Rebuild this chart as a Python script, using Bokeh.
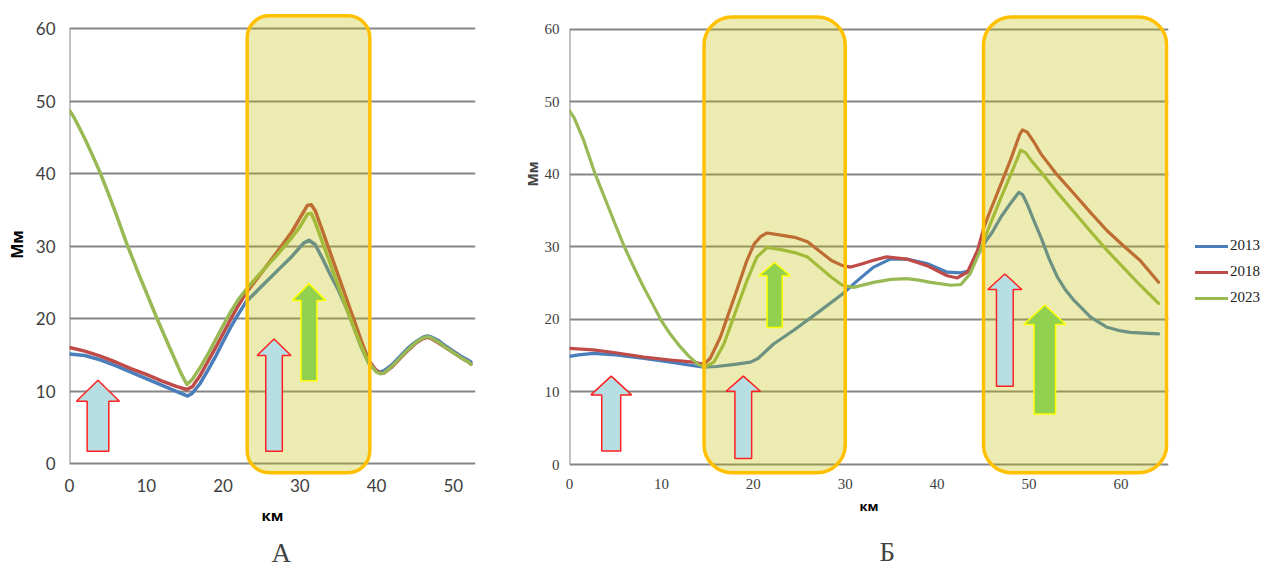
from bokeh.plotting import figure
from bokeh.models import Range1d, FixedTicker, Legend, LegendItem, Title
from bokeh.layouts import row
from bokeh.embed import file_html
from bokeh.resources import INLINE

YEARS = ["2013", "2018", "2023"]
COLORS = ["#4A7EBB", "#BE4B48", "#98B954"]
Y_TICKS = [0, 10, 20, 30, 40, 50, 60]
X_TICKS_A = [0, 10, 20, 30, 40, 50]
X_TICKS_B = [0, 10, 20, 30, 40, 50, 60]

# ---------------- Panel A ----------------
A_KM_2013 = [0, 1, 2, 4, 6, 8, 10, 12, 14, 15.4, 16, 17, 18, 19, 20, 21, 22, 23, 25, 27, 29, 30.5, 31.2,
             32, 33, 34, 35, 36, 37, 38, 39, 40, 40.5, 41, 42, 43, 44, 45, 46, 46.6, 47, 48, 49, 50, 51, 52, 52.3]
A_MM_2013 = [15.1, 15.0, 14.9, 14.3, 13.5, 12.6, 11.7, 10.8, 9.9, 9.3, 9.7, 11.0, 12.8, 14.7, 16.8, 18.8, 20.6, 22.3, 24.4, 26.5, 28.6, 30.4, 30.8,
             30.2, 28.2, 26.0, 24.0, 21.6, 18.9, 16.1, 13.8, 12.8, 12.6, 12.8, 13.6, 14.7, 15.8, 16.7, 17.4, 17.6, 17.5, 17.0, 16.2, 15.5, 14.8, 14.2, 14.0]

A_KM_2018 = [0, 2, 4, 6, 8, 10, 12, 14, 15.3, 16, 17, 18, 19, 20, 21, 22, 23, 25, 27, 29, 30, 31, 31.5,
             32, 33, 34, 35, 36, 37, 38, 39, 40, 40.6, 41, 42, 43, 44, 45, 46, 46.6, 47, 48, 49, 50, 51, 52, 52.3]
A_MM_2018 = [16.0, 15.5, 14.8, 14.0, 13.1, 12.3, 11.4, 10.6, 10.2, 10.6, 12.1, 14.0, 15.9, 17.9, 19.9, 21.8, 23.5, 26.3, 29.1, 32.0, 33.8, 35.6, 35.7,
             34.9, 32.0, 29.0, 26.0, 23.0, 20.0, 17.0, 14.2, 12.8, 12.4, 12.5, 13.3, 14.4, 15.5, 16.5, 17.2, 17.4, 17.3, 16.7, 16.0, 15.3, 14.6, 14.0, 13.7]

A_KM_2023 = [0, 0.5, 1, 2, 3, 4, 5, 6, 7.5, 9, 11.4, 13, 14.5, 15.3, 16, 17, 18, 19, 20, 21, 22, 23, 25, 27, 29, 30, 31, 31.5,
             32, 33, 34, 35, 36, 37, 38, 39, 40, 40.5, 41, 42, 43, 44, 45, 46, 46.6, 47, 48, 49, 50, 51, 52, 52.3]
A_MM_2023 = [48.7, 47.9, 46.9, 44.8, 42.5, 40.1, 37.4, 34.6, 30.2, 26.2, 20.0, 16.1, 12.5, 10.9, 11.6, 13.2, 15.0, 17.0, 19.0, 20.9, 22.6, 24.0, 26.4, 28.7, 31.2, 32.6, 34.4, 34.5,
             33.3, 30.4, 27.5, 24.6, 21.7, 18.9, 16.2, 13.9, 12.6, 12.4, 12.5, 13.4, 14.5, 15.6, 16.6, 17.3, 17.5, 17.4, 16.8, 16.0, 15.3, 14.6, 14.0, 13.7]

# ---------------- Panel B ----------------
B_KM_2013 = [0, 1, 2.6, 5, 8.1, 11, 13.5, 14.6, 16, 18, 19.7, 20.5, 22.2, 24.4, 27.3, 29.7, 31.3, 33.1, 34.9, 36.7, 38.9, 41.1, 42.6,
             43.5, 44.4, 45.1, 46, 47, 48, 48.9, 49.3, 49.8, 50.5, 51.3, 52.2, 53.1, 54, 54.9, 56.7, 58.5, 60, 61, 62.5, 64.1]
B_MM_2013 = [14.9, 15.1, 15.3, 15.1, 14.6, 14.1, 13.6, 13.4, 13.5, 13.8, 14.1, 14.6, 16.6, 18.5, 21.2, 23.5, 25.3, 27.2, 28.3, 28.3, 27.7, 26.5, 26.4,
             26.7, 28.8, 30.4, 32.0, 34.2, 36.0, 37.5, 37.2, 35.9, 33.7, 31.3, 28.3, 25.8, 24.0, 22.6, 20.3, 18.9, 18.4, 18.2, 18.1, 18.0]

B_KM_2018 = [0, 2.6, 5, 8.1, 11, 13.5, 14.6, 15.3, 16.4, 18.2, 19.3, 20.1, 20.8, 21.5, 23, 24.5, 25.9, 27.5, 28.5, 29.7, 30.6, 31.7,
             33, 34.5, 36.7, 38.9, 41.1, 42.2, 43.3, 44.4, 45.1, 45.8, 47, 48, 49, 49.3, 49.8, 50.5, 51.3, 53, 54.9, 56.7, 58.5, 60.3, 62.1, 64.1]
B_MM_2018 = [16.0, 15.8, 15.4, 14.8, 14.4, 14.1, 13.8, 14.6, 17.5, 24.0, 28.1, 30.4, 31.4, 31.9, 31.6, 31.3, 30.7, 29.1, 28.1, 27.4, 27.2, 27.6,
             28.1, 28.6, 28.3, 27.4, 26.0, 25.7, 26.5, 29.5, 32.7, 35.0, 38.8, 42.0, 45.5, 46.1, 45.8, 44.5, 42.8, 40.0, 37.3, 34.7, 32.2, 30.1, 28.1, 25.1]

B_KM_2023 = [0, 0.5, 1.5, 2.8, 4, 5, 6, 7, 8, 9, 10, 11, 12, 13, 14, 14.7, 15.7, 16.8, 17.2, 18.2, 19.3, 20.4, 21.5, 23, 24.5, 25.9,
             27, 28.5, 29.7, 30.9, 33.1, 35, 36.7, 38, 39.3, 41.5, 42.6, 43.6, 44.7, 45.8, 47, 48, 49.1, 49.6, 50.3, 51.3,
             53, 54.9, 56.7, 58.5, 60.3, 62.1, 64.1]
B_MM_2023 = [48.7, 47.8, 44.8, 40.0, 36.2, 33.0, 29.9, 27.2, 24.6, 22.2, 19.8, 17.9, 16.3, 14.9, 13.8, 13.4, 14.1, 16.6, 18.0, 21.5, 25.3, 28.6, 29.9, 29.6, 29.2, 28.6,
             27.4, 25.8, 24.7, 24.4, 25.1, 25.5, 25.6, 25.4, 25.1, 24.7, 24.8, 26.3, 29.5, 33.2, 36.9, 39.9, 43.3, 43.0, 41.8, 40.3,
             37.6, 34.8, 32.1, 29.5, 27.1, 24.7, 22.2]

# ---------------- annotations (highlight boxes and arrows) ----------------
# boxes: (left, right, bottom, top) in data units
A_BOXES = [(23.15, 39.13, -1.26, 61.75)]
B_BOXES = [(14.64, 30.0, -1.14, 61.64), (45.05, 64.98, -1.14, 61.64)]
# arrows: (center, bottom, head_base, tip, shaft_half, head_half, kind)
A_ARROWS = [(3.71, 1.70, 8.58, 11.48, 1.41, 2.80, "blue"),
            (26.65, 1.70, 14.9, 17.17, 1.08, 2.21, "blue"),
            (31.2, 11.4, 22.5, 24.81, 1.04, 2.17, "green")]
B_ARROWS = [(4.54, 1.85, 9.59, 12.18, 1.03, 2.21, "blue"),
            (18.91, 0.84, 10.09, 12.18, 0.91, 1.87, "blue"),
            (22.32, 18.89, 26.0, 27.83, 0.83, 1.71, "green"),
            (47.37, 10.79, 24.11, 26.25, 0.91, 1.85, "blue"),
            (51.72, 6.96, 19.29, 21.98, 1.17, 2.29, "green")]
ARROW_STYLE = {"blue": ("#B7DEE3", "#FF2020"), "green": ("#92D050", "#FFFF00")}

GRID = "#868686"
TICK_COLOR = "#404040"


def make_panel(series, x_end, y_lo, y_hi, x_ticks, frame_w, frame_h, bl, br, bt, bb,
               tick_font, tick_size, ylab, ylab_size, xlab_size, ytick_standoff, xlab_standoff,
               boxes, box_radius, arrows, line_w):
    p = figure(frame_width=frame_w, frame_height=frame_h,
               x_range=Range1d(0, x_end), y_range=Range1d(y_lo, y_hi),
               output_backend="svg", toolbar_location=None,
               min_border_left=bl, min_border_right=br, min_border_top=bt, min_border_bottom=bb)
    p.outline_line_color = None
    p.background_fill_color = "white"
    p.border_fill_color = "white"
    p.xgrid.visible = False
    p.ygrid.ticker = FixedTicker(ticks=Y_TICKS)
    p.ygrid.grid_line_color = GRID
    p.ygrid.grid_line_width = 2
    p.yaxis.ticker = FixedTicker(ticks=Y_TICKS)
    p.xaxis.ticker = FixedTicker(ticks=x_ticks)
    for ax in (p.xaxis[0], p.yaxis[0]):
        ax.axis_line_color = None
        ax.major_tick_line_color = None
        ax.minor_tick_line_color = None
        ax.major_tick_out = 0
        ax.major_tick_in = 0
        ax.major_label_text_font = tick_font
        ax.major_label_text_font_size = tick_size
        ax.major_label_text_color = TICK_COLOR
        ax.axis_label_text_font = "Open Sans"
        ax.axis_label_text_font_style = "bold"
        ax.axis_label_text_color = "black"
    if ylab:
        p.yaxis.axis_label = "Мм"
        p.yaxis.axis_label_text_font_size = ylab_size
        p.yaxis.axis_label_standoff = 5
    p.yaxis.major_label_standoff = ytick_standoff
    p.xaxis.axis_label = "км"
    p.xaxis.axis_label_text_font_size = xlab_size
    p.xaxis.major_label_standoff = 2
    p.xaxis.axis_label_standoff = xlab_standoff
    # vertical axis line from 0 to 60
    p.segment(x0=[0], y0=[Y_TICKS[0]], x1=[0], y1=[Y_TICKS[-1]], line_color=GRID, line_width=2)
    rends = []
    for (km, mm), c in zip(series, COLORS):
        r = p.line(km, mm, line_color=c, line_width=line_w, line_join="round", line_cap="round")
        rends.append(r)
    for (l, r_, b, t) in boxes:
        p.quad(left=[l], right=[r_], bottom=[b], top=[t], fill_color="#C0C000", fill_alpha=0.3,
               line_color=None, border_radius=box_radius)
        p.quad(left=[l], right=[r_], bottom=[b], top=[t], fill_color=None,
               line_color="#FFC000", line_width=3.5, border_radius=box_radius)
    xs, ys, fills, lines = [], [], [], []
    for (cx, bot, hb, tip, sh, hh, kind) in arrows:
        xs.append([cx - sh, cx - sh, cx - hh, cx, cx + hh, cx + sh, cx + sh])
        ys.append([bot, hb, hb, tip, hb, hb, bot])
        f, ln = ARROW_STYLE[kind]
        fills.append(f)
        lines.append(ln)
    p.patches(xs, ys, fill_color=fills, line_color=lines, line_width=1.5)
    return p, rends


pA, _ = make_panel([(A_KM_2013, A_MM_2013), (A_KM_2018, A_MM_2018), (A_KM_2023, A_MM_2023)],
                   x_end=52.9, y_lo=-13 / 7.25, y_hi=451 / 7.25, x_ticks=X_TICKS_A,
                   frame_w=406, frame_h=464, bl=69, br=45, bt=12, bb=91,
                   tick_font="Lato", tick_size="17px", ylab=True, ylab_size="16px", xlab_size="15px",
                   ytick_standoff=14, xlab_standoff=10,
                   boxes=A_BOXES, box_radius=22, arrows=A_ARROWS, line_w=3.5)
pA.add_layout(Title(text="А", align="left", offset=202, text_font="Liberation Serif",
                    text_font_size="27px", text_font_style="normal", standoff=16), "below")

pB, rendsB = make_panel([(B_KM_2013, B_MM_2013), (B_KM_2018, B_MM_2018), (B_KM_2023, B_MM_2023)],
                        x_end=599 / 9.19, y_lo=-12 / 7.258, y_hi=452 / 7.258, x_ticks=X_TICKS_B,
                        frame_w=599, frame_h=464, bl=49, br=96, bt=12, bb=91,
                        tick_font="Liberation Sans Narrow", tick_size="15px", ylab=False, ylab_size="14px",
                        xlab_size="13px", ytick_standoff=10, xlab_standoff=5,
                        boxes=B_BOXES, box_radius=28, arrows=B_ARROWS, line_w=3.2)
pB.add_layout(Title(text="Мм", align="left", offset=290, text_font="Open Sans",
                    text_font_size="14px", text_font_style="bold", standoff=0), "left")
pB.add_layout(Title(text="Б", align="left", offset=310, text_font="Liberation Serif",
                    text_font_size="27px", text_font_style="normal", standoff=34), "below")

legend = Legend(items=[LegendItem(label=y, renderers=[r]) for y, r in zip(YEARS, rendsB)],
                location=(27, 170), glyph_width=33, glyph_height=10, label_standoff=2,
                spacing=9, padding=0, margin=0, border_line_color=None, background_fill_alpha=0,
                label_text_font="Liberation Sans Narrow", label_text_font_size="15px",
                label_text_color="#222222")
pB.add_layout(legend, "right")

layout = row(pA, pB, spacing=0)
open("out.html", "w").write(file_html(layout, INLINE))
